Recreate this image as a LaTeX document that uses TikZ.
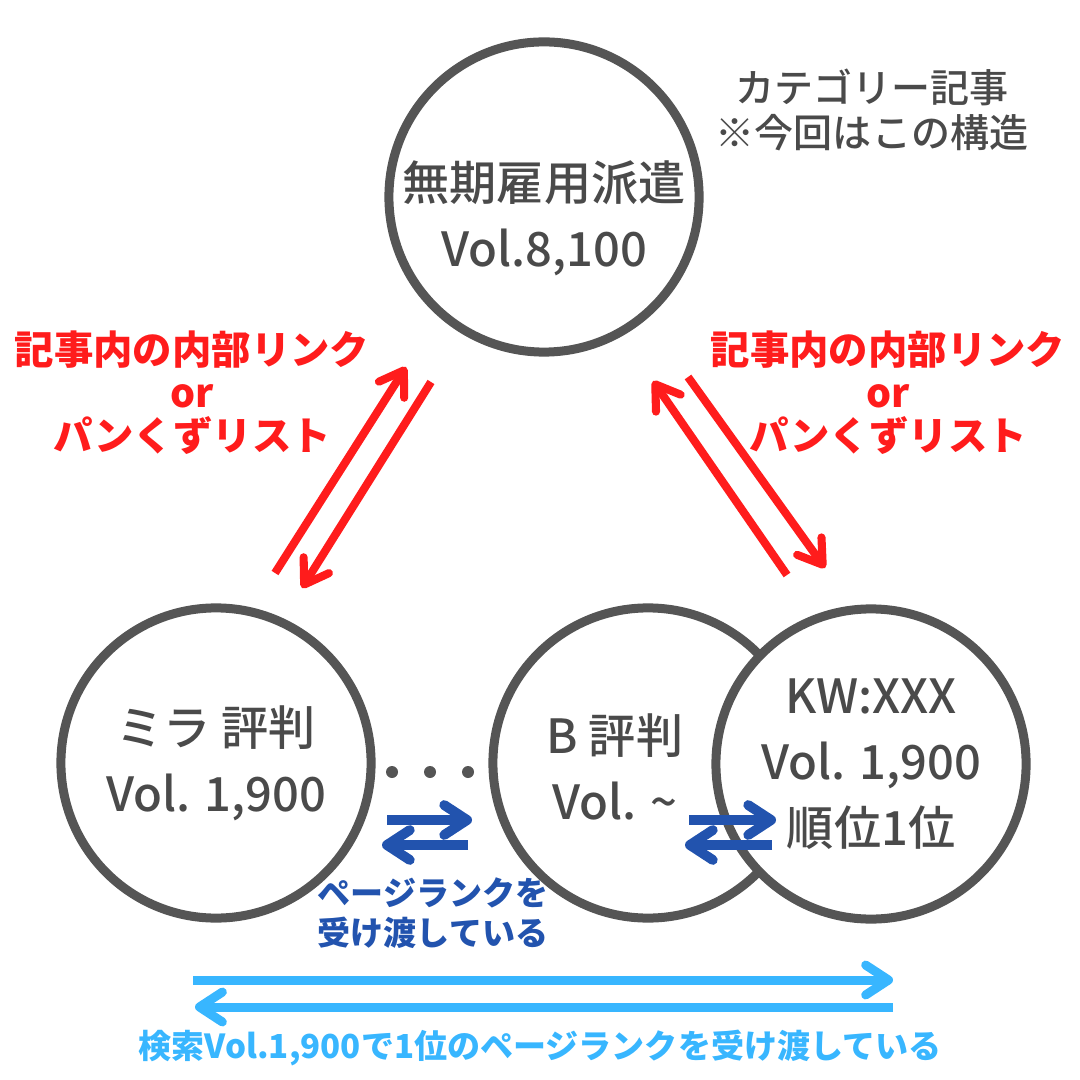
\documentclass[tikz,border=0pt]{standalone}
\usepackage{fontspec}
\setmainfont{Noto Sans CJK JP}
\newfontfamily\jpmedium{Noto Sans CJK JP Medium}
\usetikzlibrary{arrows.meta, positioning}

\definecolor{ringgray}{HTML}{555555}
\definecolor{textgray}{HTML}{4A4A4A}
\definecolor{linkred}{HTML}{FF1C1C}
\definecolor{rankblue}{HTML}{2253AE}
\definecolor{skyblue}{HTML}{38B6FF}

\newcommand{\pagefont}{\jpmedium\fontsize{13.4pt}{18.8pt}\selectfont}
\newcommand{\linkfont}{\bfseries\fontsize{11.2pt}{12.2pt}\selectfont}
\newcommand{\notefont}{\jpmedium\fontsize{11.1pt}{12.7pt}\selectfont}
\newcommand{\rankfont}{\bfseries\fontsize{9.4pt}{11.4pt}\selectfont}

\tikzset{
>={Straight Barb[length=6.5pt, width=8.5pt, round]}, % open chevron heads
page/.style={circle, draw=ringgray, fill=white, line width=2.56pt,
  minimum size=3.1cm, inner sep=0pt, text=textgray, align=center, font=\pagefont},
pagetext/.style={text=textgray, align=center, font=\pagefont},
linkarrow/.style={->, draw=linkred, line width=2.3pt},
rankarrow/.style={->, draw=rankblue, line width=2.8pt},
totalarrow/.style={->, draw=skyblue, line width=2.56pt},
}

\begin{document}
\begin{tikzpicture}[x=0.01cm, y=-0.01cm] % one unit = one pixel, y downwards
\useasboundingbox (0,0) rectangle (1080,1080);

% the pages
\node[page] (cat) at (544,197) {};
\node[page] (mira) at (216,763) {ミラ 評判\\Vol. 1,900};
\node[page] (brev) at (648,763) {};
\node[page] (kw) at (871,764) {KW:XXX\\Vol. 1,900\\順位1位};

\node[pagetext] (catname) at (544,218) {無期雇用派遣\\Vol.8,100};
\node[pagetext] (bname) at (615,767) {B 評判\\Vol. \textasciitilde};

\node[text=textgray, align=center, font=\notefont] (note) at (872,110)
  {カテゴリー記事\\※今回はこの構造};

% dots between the pages
\foreach \x in {392,430,468}
  \fill[ringgray] (\x,772) circle (6);

% internal links, category <-> articles
\coordinate (lu0) at (275,573);
\coordinate (lu1) at (406,367);
\coordinate (ld0) at (431,382);
\coordinate (ld1) at (302,588);
\coordinate (ru0) at (787,575);
\coordinate (ru1) at (653,381);
\coordinate (rd0) at (688,377);
\coordinate (rd1) at (825,568);

\draw[linkarrow] (lu0) -- (lu1);
\draw[linkarrow] (ld0) -- (ld1);
\draw[linkarrow] (ru0) -- (ru1);
\draw[linkarrow] (rd0) -- (rd1);

\node[text=linkred, align=center, font=\linkfont] (linkl) at (192,393)
  {記事内の内部リンク\\or\\パンくずリスト};
\node[text=linkred, align=center, font=\linkfont] (linkr) at (888,393)
  {記事内の内部リンク\\or\\パンくずリスト};

% page rank between articles
\coordinate (pa0) at (387,820);
\coordinate (pa1) at (472,820);
\coordinate (pb0) at (468,845);
\coordinate (pb1) at (382,845);
\coordinate (qa0) at (689,820);
\coordinate (qa1) at (776,820);
\coordinate (qb0) at (772,845);
\coordinate (qb1) at (685,845);

\draw[rankarrow] (pa0) -- (pa1);
\draw[rankarrow] (pb0) -- (pb1);
\draw[rankarrow] (qa0) -- (qa1);
\draw[rankarrow] (qb0) -- (qb1);

\node[text=rankblue, align=center, font=\rankfont] (rank) at (433,913)
  {ページランクを\\受け渡している};

% whole chain
\coordinate (ta0) at (193,980);
\coordinate (ta1) at (893,980);
\coordinate (tb0) at (893,1007);
\coordinate (tb1) at (195,1007);

\draw[totalarrow] (ta0) -- (ta1);
\draw[totalarrow] (tb0) -- (tb1);

\node[text=skyblue, font=\rankfont] (total) at (540,1048)
  {検索Vol.1,900で1位のページランクを受け渡している};
\end{tikzpicture}
\end{document}
